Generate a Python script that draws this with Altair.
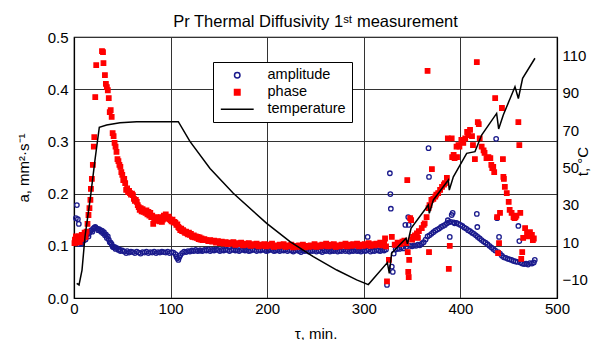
import altair as alt
import pandas as pd

# ---------------- data ----------------
series_names = ["amplitude", "phase", "temperature"]

amp_t = [1, 2, 3, 3.5, 4, 5, 5.5, 6, 7, 8, 9, 10, 11, 12, 13, 14, 15, 16, 17, 18,
         19, 20, 21, 22, 23, 24, 25, 26, 27, 28, 29, 30, 31, 32, 33, 34, 35, 36, 37, 38,
         39, 40, 41, 42, 43, 44, 46, 47, 48, 50, 52, 54, 55, 57, 59, 61, 63, 65, 67, 69,
         71, 73, 75, 77, 79, 81, 83, 85, 87, 89, 91, 93, 95, 97, 99, 101, 103, 105, 106, 107,
         108, 109, 110, 112, 114, 116, 118, 120, 122, 124, 126, 128, 130,
         131, 133, 135, 137, 139, 141, 143, 145, 147, 149, 151, 153, 155, 157, 159, 161, 163, 165, 167, 169,
         171, 173, 175, 177, 179, 181, 183, 185, 187, 189, 191, 193, 195, 197, 199, 201, 203, 205, 207, 209,
         211, 213, 215, 217, 219, 221, 223, 225, 227, 229, 231, 233, 235, 237, 239, 241, 243, 245, 247, 249,
         251, 253, 255, 257, 259, 261, 263, 265, 267, 269, 271, 273, 275, 277, 279, 281, 283, 285, 287, 289,
         291, 293, 295, 297, 299, 301, 303, 304, 305, 307, 309, 311, 313, 315, 317, 319, 321, 323,
         324, 327, 327.5, 328, 329, 330, 331, 333, 335, 337, 339, 341, 343, 344, 346, 346.5, 348, 350, 352, 354,
         356, 358, 360, 362, 364, 366, 367, 367.5, 368, 370, 372, 374, 376, 378, 380, 382, 384, 386, 387, 388,
         389, 390, 391, 392, 393, 394, 396, 398, 400, 402, 404, 406, 408, 410, 412, 414, 416, 417, 417.5, 418,
         420, 422, 424, 426, 428, 430, 432, 434, 436, 437, 438, 439, 440, 441, 443, 445, 447, 449, 451, 453,
         455, 457, 459, 460, 461, 462, 464, 466, 468, 470, 472, 474, 476, 477]
amp_v = [0.105, 0.153, 0.178, 0.108, 0.151, 0.142, 0.103, 0.112, 0.106, 0.104, 0.111, 0.110, 0.117, 0.112, 0.120, 0.122, 0.118, 0.125, 0.128, 0.130,
         0.127, 0.133, 0.135, 0.136, 0.134, 0.133, 0.130, 0.132, 0.130, 0.127, 0.129, 0.124, 0.126, 0.120, 0.122, 0.115, 0.118, 0.112, 0.107, 0.106,
         0.103, 0.098, 0.097, 0.098, 0.094, 0.096, 0.092, 0.093, 0.090, 0.091, 0.089, 0.086, 0.090, 0.087, 0.089, 0.088, 0.086, 0.089, 0.087, 0.085,
         0.088, 0.087, 0.089, 0.086, 0.088, 0.087, 0.089, 0.086, 0.088, 0.087, 0.089, 0.088, 0.087, 0.089, 0.086, 0.088, 0.087, 0.084, 0.079, 0.076,
         0.073, 0.078, 0.082, 0.086, 0.089, 0.088, 0.090, 0.089, 0.091, 0.090, 0.092, 0.090, 0.091,
         0.091, 0.090, 0.092, 0.091, 0.093, 0.090, 0.092, 0.091, 0.093, 0.092, 0.090, 0.092, 0.091, 0.093, 0.092, 0.090, 0.092, 0.093, 0.091, 0.092,
         0.090, 0.092, 0.093, 0.091, 0.092, 0.090, 0.091, 0.093, 0.092, 0.090, 0.092, 0.091, 0.093, 0.092, 0.090, 0.091, 0.093, 0.092, 0.090, 0.091,
         0.092, 0.090, 0.092, 0.091, 0.093, 0.090, 0.092, 0.091, 0.089, 0.091, 0.092, 0.090, 0.088, 0.091, 0.090, 0.092, 0.089, 0.091, 0.090, 0.092,
         0.089, 0.091, 0.090, 0.088, 0.091, 0.090, 0.092, 0.089, 0.091, 0.090, 0.092, 0.089, 0.091, 0.090, 0.093, 0.090, 0.092, 0.089, 0.091, 0.090,
         0.092, 0.090, 0.091, 0.089, 0.092, 0.090, 0.091, 0.117, 0.093, 0.089, 0.091, 0.090, 0.092, 0.091, 0.090, 0.092, 0.091, 0.093,
         0.025, 0.239, 0.199, 0.171, 0.060, 0.050, 0.085, 0.093, 0.095, 0.094, 0.097, 0.095, 0.140, 0.098, 0.155, 0.140, 0.100, 0.099, 0.101, 0.100,
         0.102, 0.101, 0.104, 0.107, 0.112, 0.118, 0.287, 0.232, 0.120, 0.123, 0.126, 0.129, 0.131, 0.133, 0.136, 0.138, 0.140, 0.143, 0.149, 0.145,
         0.117, 0.146, 0.159, 0.163, 0.145, 0.143, 0.144, 0.142, 0.140, 0.138, 0.135, 0.133, 0.130, 0.128, 0.125, 0.123, 0.120, 0.161, 0.136, 0.117,
         0.114, 0.111, 0.108, 0.106, 0.103, 0.100, 0.097, 0.094, 0.091, 0.305, 0.153, 0.088, 0.117, 0.085, 0.081, 0.078, 0.077, 0.075, 0.074, 0.073,
         0.071, 0.070, 0.069, 0.138, 0.109, 0.068, 0.066, 0.065, 0.066, 0.064, 0.067, 0.066, 0.068, 0.073]

phase_t = [0.5, 1, 1.5, 2, 2.5, 3, 4, 5, 6, 7, 8, 9, 10, 11, 12, 13, 14, 15, 16, 17,
           17.5, 18.5, 19.5, 20.5, 21, 22, 23, 29, 30, 30.5, 32, 33, 34, 35, 36, 37, 38, 39, 40, 41,
           42, 43, 44, 45, 46, 47, 48, 49, 50, 51, 52, 53, 54, 55, 56, 57, 58, 59, 60, 61,
           62, 63, 64, 65, 66, 67, 68, 69, 70, 71, 72, 73, 74, 75, 76, 77, 78, 79, 80, 81,
           82, 83, 84, 85, 86, 87, 88, 89, 90, 91, 92, 93, 94, 95, 96, 97, 98, 99, 100, 101,
           102, 103, 104, 105, 106, 107, 108, 109, 110, 111, 112, 113, 114, 115, 116, 117, 118, 119, 120, 121,
           122, 123, 124, 125, 126, 127, 128, 129, 130, 131, 132, 133, 135, 137, 139, 141,
           143, 145, 147, 149, 151, 153, 155, 157, 159, 161, 163, 165, 167, 169, 171, 173, 175, 177, 179, 181,
           183, 185, 187, 189, 191, 193, 195, 197, 199, 201, 203, 205, 207, 209, 211, 213, 215, 217, 219, 221,
           223, 225, 227, 229, 231, 233, 235, 237, 239, 241, 243, 245, 247, 249, 251, 253, 255, 257, 259, 261,
           263, 265, 267, 269, 271, 273, 275, 277, 279, 281, 283, 285, 287, 289, 291, 293, 295, 297, 299, 301,
           303, 305, 307, 309, 311, 313, 315, 317, 319, 321, 322, 323,
           324, 326, 329, 332, 335, 338, 340, 342, 344, 345, 345.5, 346, 346.5, 347, 348, 349, 350, 351, 353, 355,
           356, 357, 360, 362, 363, 365, 366, 367, 367.5, 368, 370, 370.5, 372, 374, 375, 377, 379, 381, 383, 384,
           386, 387, 388, 389, 391, 391.5, 393, 394, 396, 396.5, 398, 399, 401, 403, 405, 407, 408, 410, 412, 413,
           415, 417, 418, 419, 420, 422, 424, 425, 427, 429, 431, 432, 433, 434, 435, 436, 438, 439, 440, 441,
           443, 444, 444.5, 445, 446, 448, 450, 451, 453, 455, 456, 457, 458, 460, 461, 462, 463, 464, 465, 467,
           469, 470, 472, 474, 475, 476]
phase_v = [0.105, 0.112, 0.108, 0.118, 0.106, 0.115, 0.110, 0.118, 0.107, 0.113, 0.121, 0.114, 0.119, 0.125, 0.117, 0.127, 0.142, 0.159, 0.172, 0.188,
           0.209, 0.228, 0.255, 0.290, 0.308, 0.385, 0.446, 0.473, 0.471, 0.450, 0.427, 0.410, 0.404, 0.398, 0.383, 0.356, 0.360, 0.347, 0.316, 0.310,
           0.297, 0.290, 0.280, 0.266, 0.262, 0.255, 0.251, 0.241, 0.236, 0.226, 0.228, 0.220, 0.207, 0.210, 0.203, 0.205, 0.201, 0.198, 0.200, 0.197,
           0.190, 0.186, 0.188, 0.184, 0.178, 0.174, 0.169, 0.172, 0.166, 0.170, 0.165, 0.167, 0.163, 0.168, 0.160, 0.165, 0.158, 0.163, 0.155, 0.158,
           0.142, 0.152, 0.150, 0.155, 0.153, 0.148, 0.152, 0.147, 0.155, 0.146, 0.150, 0.158, 0.152, 0.160, 0.155, 0.153, 0.156, 0.151, 0.149, 0.147,
           0.150, 0.145, 0.146, 0.144, 0.140, 0.141, 0.136, 0.134, 0.130, 0.133, 0.128, 0.130, 0.127, 0.125, 0.127, 0.124, 0.122, 0.125, 0.121, 0.123,
           0.118, 0.117, 0.120, 0.116, 0.118, 0.115, 0.117, 0.113, 0.116, 0.112, 0.114, 0.111, 0.113, 0.111, 0.109, 0.111,
           0.108, 0.110, 0.106, 0.109, 0.105, 0.108, 0.104, 0.107, 0.103, 0.106, 0.104, 0.107, 0.102, 0.105, 0.103, 0.106, 0.101, 0.104, 0.102, 0.105,
           0.100, 0.103, 0.101, 0.104, 0.099, 0.102, 0.100, 0.103, 0.099, 0.102, 0.100, 0.104, 0.098, 0.101, 0.099, 0.102, 0.100, 0.103, 0.098, 0.101,
           0.099, 0.102, 0.097, 0.100, 0.098, 0.101, 0.099, 0.102, 0.097, 0.100, 0.098, 0.101, 0.099, 0.103, 0.098, 0.101, 0.099, 0.102, 0.100, 0.104,
           0.099, 0.102, 0.100, 0.103, 0.098, 0.101, 0.099, 0.102, 0.100, 0.104, 0.099, 0.102, 0.100, 0.103, 0.101, 0.104, 0.099, 0.102, 0.100, 0.103,
           0.101, 0.105, 0.100, 0.103, 0.101, 0.104, 0.102, 0.106, 0.101, 0.104, 0.114, 0.099,
           0.032, 0.073, 0.117, 0.102, 0.106, 0.103, 0.108, 0.110, 0.105, 0.226, 0.088, 0.050, 0.040, 0.073, 0.153, 0.149, 0.112, 0.117, 0.120, 0.124,
           0.115, 0.128, 0.134, 0.140, 0.143, 0.155, 0.435, 0.172, 0.088, 0.178, 0.188, 0.247, 0.190, 0.194, 0.198, 0.201, 0.207, 0.213, 0.217, 0.220,
           0.230, 0.306, 0.056, 0.100, 0.306, 0.270, 0.274, 0.268, 0.290, 0.270, 0.293, 0.290, 0.303, 0.297, 0.306, 0.318, 0.312, 0.322, 0.310, 0.293,
           0.266, 0.452, 0.337, 0.333, 0.306, 0.290, 0.283, 0.278, 0.268, 0.270, 0.268, 0.255, 0.249, 0.251, 0.241, 0.383, 0.155, 0.086, 0.105, 0.163,
           0.364, 0.266, 0.232, 0.228, 0.213, 0.201, 0.184, 0.169, 0.163, 0.155, 0.153, 0.155, 0.158, 0.337, 0.293, 0.163, 0.075, 0.088, 0.115, 0.134,
           0.124, 0.118, 0.126, 0.121, 0.111, 0.114]

temp_t = [2.8, 5.2, 8.3, 11.4, 17, 21.7, 26.2, 33.8, 47.6, 64.9, 108, 120, 140.8, 164.9, 199.5, 223.6, 247.7, 272, 292.6, 304.7,
          324.4, 326.4, 328.8, 343.7, 345.2, 348.9, 366.8, 367.8, 372, 387.5, 388.5, 392.7, 406.5, 415.1, 422, 437.5, 439.6, 444.4, 456.5, 460,
          464.4, 477.2]
temp_v = [-12.1, -13, -5, 13, 34, 54, 71.6, 72.8, 74, 74.6, 74.6, 64, 49.5, 36.2, 20, 10.2, 2.2, -5, -10.3, -12.8,
          -1, -6.8, 4, 12, 9, 17.4, 29.9, 25.4, 32.6, 43.3, 37.9, 45, 57.6, 58.5, 67.4, 79, 70.7, 78.2, 93.3, 87,
          97.8, 108.6]

x_ticks = [0, 100, 200, 300, 400, 500]
a_ticks = [0.0, 0.1, 0.2, 0.3, 0.4, 0.5]
t_ticks = [-10, 10, 30, 50, 70, 90, 110]

# ---------------- chart ----------------
assert len(amp_t) == len(amp_v) and len(phase_t) == len(phase_v) and len(temp_t) == len(temp_v)

pts = pd.concat([
    pd.DataFrame({"t": amp_t, "v": amp_v, "series": "amplitude"}),
    pd.DataFrame({"t": phase_t, "v": phase_v, "series": "phase"}),
], ignore_index=True)
pts["order"] = range(len(pts))
temp = pd.DataFrame({"t": temp_t, "T": temp_v, "series": "temperature"})

FONT = "Liberation Sans"
stroke_scale = alt.Scale(domain=series_names, range=["#1a1a8c", "#ff0000", "#000000"])
fill_scale = alt.Scale(domain=series_names, range=["transparent", "#ff0000", "transparent"])
shape_scale = alt.Scale(domain=series_names, range=["circle", "square", "M-6,0L6,0"])

x_enc = alt.X("t:Q", scale=alt.Scale(domain=[0, 500], nice=False),
              axis=alt.Axis(values=x_ticks, title="τ, min.", grid=True, ticks=False,
                            labelFlush=False, labelPadding=3, titlePadding=10))

points = alt.Chart(pts).mark_point(size=20, strokeWidth=1.3, opacity=1).encode(
    x=x_enc,
    y=alt.Y("v:Q", scale=alt.Scale(domain=[0, 0.5], nice=False),
            axis=alt.Axis(values=a_ticks, format=".1f", title="a, mm²·s⁻¹", grid=True,
                          ticks=False, labelFlush=False, labelPadding=6, titlePadding=16)),
    stroke=alt.Stroke("series:N", scale=stroke_scale, legend=alt.Legend(title=None)),
    fill=alt.Fill("series:N", scale=fill_scale, legend=alt.Legend(title=None)),
    shape=alt.Shape("series:N", scale=shape_scale, legend=alt.Legend(title=None)),
    order=alt.Order("order:Q"),
)

line = alt.Chart(temp).mark_line(strokeWidth=1.5).encode(
    x=alt.X("t:Q", scale=alt.Scale(domain=[0, 500], nice=False)),
    y=alt.Y("T:Q", scale=alt.Scale(domain=[-20, 120], nice=False),
            axis=alt.Axis(orient="right", values=t_ticks, title="t, °C", grid=False,
                          ticks=False, labelFlush=False, labelPadding=5, titleAngle=270,
                          titlePadding=3, titleY=124)),
    stroke=alt.Stroke("series:N", scale=stroke_scale, legend=alt.Legend(title=None)),
)

chart = alt.layer(points, line).resolve_scale(y="independent").properties(
    width=483, height=261,
    autosize=alt.AutoSizeParams(type="none"),
    padding={"left": 66, "top": 29, "right": 40, "bottom": 44},
    title=alt.TitleParams("Pr Thermal Diffusivity 1ˢᵗ measurement", font=FONT, fontSize=16.5,
                          fontWeight="normal", color="black", anchor="middle", frame="group",
                          offset=0),
).configure_view(stroke="black", strokeWidth=1.2).configure_axis(
    labelFont=FONT, labelFontSize=15, labelColor="black",
    titleFont=FONT, titleFontSize=15, titleFontWeight="normal", titleColor="black",
    domainColor="black", domainWidth=1.2, gridColor="#333333", gridWidth=1, gridOpacity=1,
).configure_legend(
    orient="none", legendX=139, legendY=25, strokeColor="black", fillColor="white",
    padding=6, labelFont=FONT, labelFontSize=14.5, labelColor="black",
    symbolSize=30, symbolStrokeWidth=1.5, symbolOffset=11, labelOffset=23, rowPadding=2,
    cornerRadius=0,
)

chart.save("out.html", embed_options={"renderer": "svg", "actions": False})
